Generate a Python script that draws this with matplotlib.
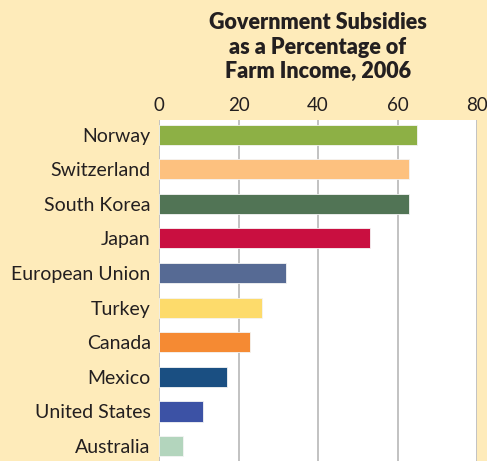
import matplotlib.pyplot as plt

# data
countries = ["Norway", "Switzerland", "South Korea", "Japan", "European Union",
             "Turkey", "Canada", "Mexico", "United States", "Australia"]
subsidies = [65, 63, 63, 53, 32, 26, 23, 17, 11, 6]
colors = ["#8DB045", "#FDC17F", "#517455", "#C90F40", "#566A94",
          "#FDDB6B", "#F58A33", "#1A4F82", "#3C52A5", "#B3D5BD"]
xticks = [0, 20, 40, 60, 80]

bg = "#FEEBBA"
plt.rcParams['font.family'] = ['Lato', 'DejaVu Sans']

fig = plt.figure(figsize=(4.87, 4.61), dpi=100, facecolor=bg)
ax = fig.add_axes([159 / 487, 0, 318 / 487, 1 - 120 / 461])
ax.set_facecolor("white")

ypos = list(range(len(countries)))
ax.barh(ypos, subsidies, height=0.58, color=colors, edgecolor="#f4f4f4",
        linewidth=0.6, zorder=3)

ax.set_xlim(0, 80)
ax.set_ylim(len(countries) - 1 + 0.43, -0.42)
ax.set_xticks(xticks)
ax.xaxis.tick_top()
ax.tick_params(axis='x', length=0, pad=4, labelsize=13.5, colors="#231f20")
ax.set_yticks(ypos)
ax.set_yticklabels(countries)
ax.tick_params(axis='y', length=0, pad=6, labelsize=14, colors="#231f20")
ax.grid(axis='x', color="#b8b8b8", linewidth=1.2, zorder=0)
for s in ax.spines.values():
    s.set_visible(False)

fig.text(318 / 487, 1 - 47 / 461,
         "Government Subsidies\nas a Percentage of\nFarm Income, 2006",
         ha="center", va="center", fontsize=15.5, fontweight="heavy",
         color="#231f20", linespacing=1.2)

fig.savefig("out.png", dpi=100, facecolor=bg)
